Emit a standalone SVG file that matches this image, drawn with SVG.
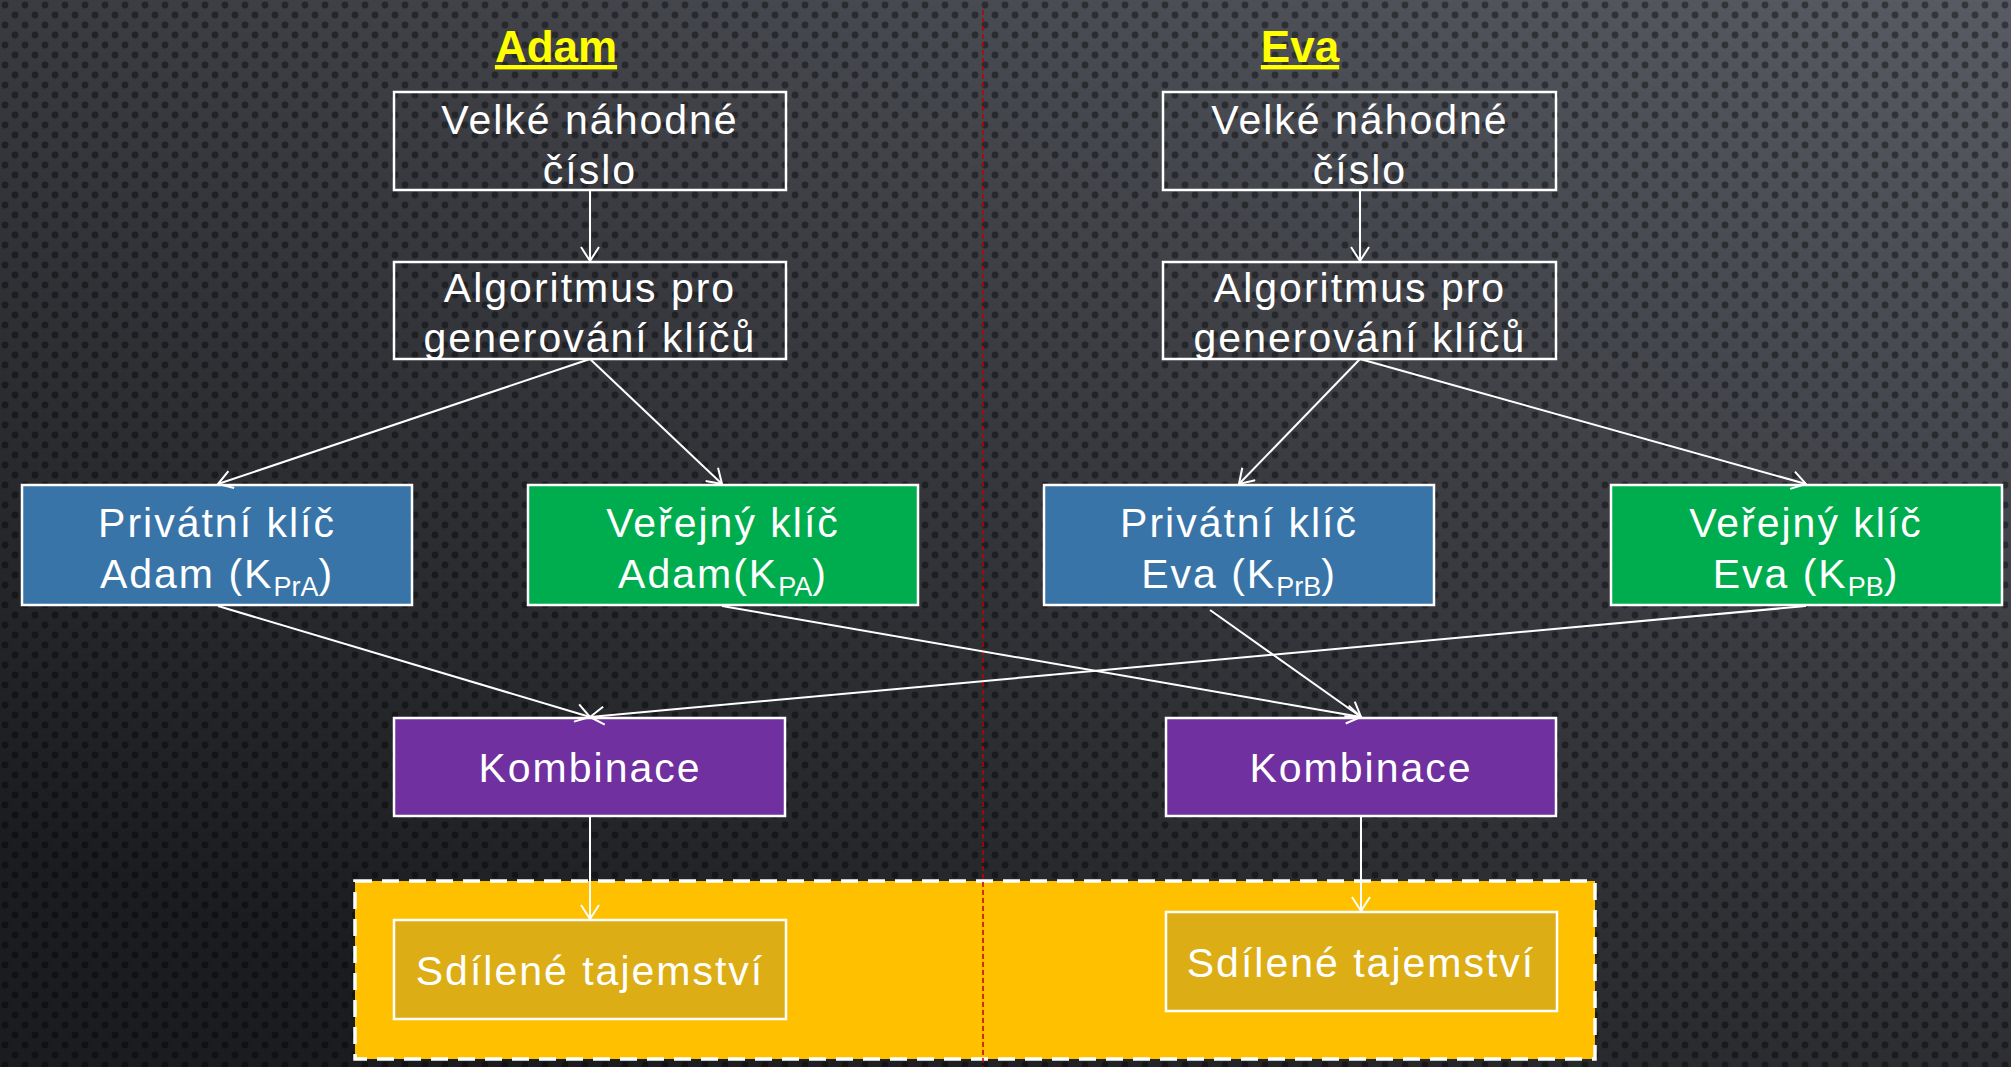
<svg xmlns="http://www.w3.org/2000/svg" width="2011" height="1067" viewBox="0 0 2011 1067">
<style>
.t{font-family:"Liberation Sans",Arial,sans-serif;font-size:41px;fill:#ffffff;text-anchor:middle;letter-spacing:2px}
.sub{font-size:27px;letter-spacing:0px}
.title{font-family:"Liberation Sans",Arial,sans-serif;font-size:44px;font-weight:bold;fill:#ffff00;text-anchor:middle;text-decoration:underline}
.box{stroke:#ffffff;stroke-width:2.5}
.c{stroke:#ffffff;stroke-width:2;fill:none;marker-end:url(#ah)}
</style>
<defs>
<linearGradient id="bg" x1="1" y1="0" x2="0.3" y2="1">
<stop offset="0" stop-color="#585b63"/>
<stop offset="0.5" stop-color="#37393e"/>
<stop offset="1" stop-color="#1b1c1f"/>
</linearGradient>
<pattern id="dots" width="20" height="20" patternUnits="userSpaceOnUse">
<circle cx="5" cy="5" r="3.4" fill="#000000" fill-opacity="0.4"/>
<circle cx="15" cy="15" r="3.4" fill="#000000" fill-opacity="0.4"/>
</pattern>
<marker id="ah" markerUnits="userSpaceOnUse" markerWidth="18" markerHeight="20" viewBox="0 0 16 20" refX="15" refY="10" orient="auto">
<path d="M1,1 L15,10 L1,19" fill="none" stroke="#ffffff" stroke-width="2"/>
</marker>
</defs>
<rect width="2011" height="1067" fill="url(#bg)"/>
<rect width="2011" height="1067" fill="url(#dots)"/>

<g id="shared-area">
<rect x="355" y="881" width="1240" height="178" fill="#ffc000" stroke="#ffffff" stroke-width="3.5" stroke-dasharray="17,10"/>
</g>
<line x1="983" y1="10" x2="983" y2="1067" stroke="#c00000" stroke-width="1.5" stroke-dasharray="5,3"/>

<g id="title-adam"><text class="title" x="556" y="62">Adam</text></g>
<g id="title-eva"><text class="title" x="1300" y="62">Eva</text></g>

<g id="random-adam">
<rect class="box" x="394" y="92" width="392" height="98" fill="none"/>
<text class="t" x="590" y="134">Velké náhodné</text>
<text class="t" x="590" y="184">číslo</text>
</g>
<g id="algo-adam">
<rect class="box" x="394" y="262" width="392" height="97" fill="none"/>
<text class="t" x="590" y="302">Algoritmus pro</text>
<text class="t" x="590" y="352">generování klíčů</text>
</g>
<g id="random-eva">
<rect class="box" x="1163" y="92" width="393" height="98" fill="none"/>
<text class="t" x="1360" y="134">Velké náhodné</text>
<text class="t" x="1360" y="184">číslo</text>
</g>
<g id="algo-eva">
<rect class="box" x="1163" y="262" width="393" height="97" fill="none"/>
<text class="t" x="1360" y="302">Algoritmus pro</text>
<text class="t" x="1360" y="352">generování klíčů</text>
</g>

<g id="priv-adam">
<rect class="box" x="22" y="485" width="390" height="120" fill="#3874a8"/>
<text class="t" x="217" y="537">Privátní klíč</text>
<text class="t" x="217" y="588">Adam (K<tspan class="sub" dy="8">PrA</tspan><tspan dy="-8">)</tspan></text>
</g>
<g id="pub-adam">
<rect class="box" x="528" y="485" width="390" height="120" fill="#00ad4e"/>
<text class="t" x="723" y="537">Veřejný klíč</text>
<text class="t" x="723" y="588">Adam(K<tspan class="sub" dy="8">PA</tspan><tspan dy="-8">)</tspan></text>
</g>
<g id="priv-eva">
<rect class="box" x="1044" y="485" width="390" height="120" fill="#3874a8"/>
<text class="t" x="1239" y="537">Privátní klíč</text>
<text class="t" x="1239" y="588">Eva (K<tspan class="sub" dy="8">PrB</tspan><tspan dy="-8">)</tspan></text>
</g>
<g id="pub-eva">
<rect class="box" x="1611" y="485" width="391" height="120" fill="#00ad4e"/>
<text class="t" x="1806" y="537">Veřejný klíč</text>
<text class="t" x="1806" y="588">Eva (K<tspan class="sub" dy="8">PB</tspan><tspan dy="-8">)</tspan></text>
</g>

<g id="komb-adam">
<rect class="box" x="394" y="718" width="391" height="98" fill="#7030a0"/>
<text class="t" x="590" y="782">Kombinace</text>
</g>
<g id="komb-eva">
<rect class="box" x="1166" y="718" width="390" height="98" fill="#7030a0"/>
<text class="t" x="1361" y="782">Kombinace</text>
</g>

<g id="secret-adam">
<rect class="box" x="394" y="920" width="392" height="99" fill="#dcad14"/>
<text class="t" x="590" y="985">Sdílené tajemství</text>
</g>
<g id="secret-eva">
<rect class="box" x="1166" y="912" width="391" height="99" fill="#dcad14"/>
<text class="t" x="1361" y="977">Sdílené tajemství</text>
</g>

<g id="connectors">
<line class="c" x1="590" y1="190" x2="590" y2="261"/>
<line class="c" x1="1360" y1="190" x2="1360" y2="261"/>
<line class="c" x1="590" y1="359" x2="218" y2="484"/>
<line class="c" x1="590" y1="359" x2="722" y2="484"/>
<line class="c" x1="1360" y1="359" x2="1239" y2="484"/>
<line class="c" x1="1360" y1="359" x2="1806" y2="484"/>
<line class="c" x1="218" y1="606" x2="590" y2="717"/>
<line class="c" x1="1806" y1="606" x2="590" y2="717"/>
<line class="c" x1="722" y1="606" x2="1361" y2="717"/>
<line class="c" x1="1210" y1="610" x2="1361" y2="717"/>
<line class="c" x1="590" y1="817" x2="590" y2="919"/>
<line class="c" x1="1361" y1="817" x2="1361" y2="911"/>
</g>
</svg>
